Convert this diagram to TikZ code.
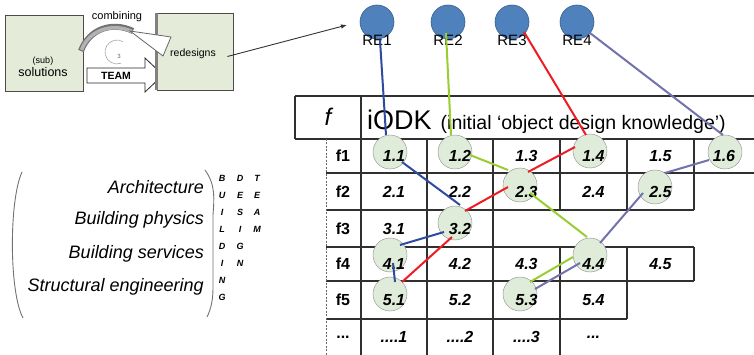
\documentclass[tikz,border=0pt]{standalone}
\usepackage{fontspec}
\setmainfont{Liberation Sans}
\usetikzlibrary{calc,arrows.meta}
\definecolor{boxgreen}{HTML}{E4ECD9}
\definecolor{circgreen}{HTML}{E0ECDA}
\definecolor{reblue}{HTML}{4F81BD}
\definecolor{reborder}{HTML}{3A5F8C}
\definecolor{lblue}{HTML}{2F4B9F}
\definecolor{lgreen}{HTML}{9ACD32}
\definecolor{lred}{HTML}{EE1D23}
\definecolor{lpurple}{HTML}{7272AC}
\definecolor{tline}{HTML}{303030}
\begin{document}
\begin{tikzpicture}[x=1pt,y=-1pt,
  fs/.style={font=\fontsize{#1}{#1}\selectfont},
  gbox/.style={draw=black!70, fill=boxgreen, line width=0.8pt, inner sep=0pt},
  tl/.style={draw=tline, line width=1.2pt},
  cell/.style={font=\fontsize{16}{16}\selectfont\bfseries\itshape, inner sep=0pt},
  flab/.style={font=\fontsize{16}{16}\selectfont\bfseries, inner sep=0pt},
  hcirc/.style={circle, draw=black!45, fill=circgreen, minimum size=34pt, inner sep=0pt},
  renode/.style={circle, draw=reborder, fill=reblue, minimum size=34pt, inner sep=0pt, line width=0.6pt},
  relab/.style={font=\fontsize{15}{15}\selectfont, inner sep=0pt},
  conn/.style={line width=2pt},
  disc/.style={font=\fontsize{18}{18}\selectfont\itshape, anchor=east, inner sep=0pt},
  lett/.style={font=\fontsize{9}{9}\selectfont\bfseries\itshape, inner sep=0pt},
  paren/.style={draw=black!55, line width=0.9pt}
]
\useasboundingbox (0,0) rectangle (754,355);
\fill[white] (0,0) rectangle (754,355);

% ---------- top-left process sketch ----------
\node[gbox, minimum width=78pt, minimum height=76pt] (solbox) at (44,53) {};
\node[fs=9, inner sep=0pt] (subt) at (43,61) {(sub)};
\node[fs=12.5, inner sep=0pt] (solt) at (43,72) {solutions};
% TEAM block arrow
\filldraw[fill=white, draw=black!85, line width=0.8pt] (87,68) -- (145,68) -- (145,58) -- (163,75) -- (145,92) -- (145,83) -- (87,83) -- cycle;
\node[font=\fontsize{10.5}{10.5}\selectfont\bfseries, inner sep=0pt] (team) at (116,75.5) {TEAM};
\node[gbox, minimum width=76pt, minimum height=77pt] (rdbox) at (195,51.5) {};
\draw[black!50, line width=2.5pt] (rdbox.north west) -- (rdbox.south west);
\node[fs=10.5, inner sep=0pt] (rdt) at (193,54) {redesigns};
% combining arc
\draw[black!55, line width=6pt] (81,51) .. controls (89,29) and (112,21) .. (133,31);
\draw[black!30, line width=3.5pt] (81.5,50) .. controls (89,30) and (112,22.5) .. (132,31.5);
\filldraw[fill=white, draw=black!60, line width=0.8pt] (130,31) -- (171,37) -- (163,56) -- cycle;
\draw[black!35, line width=0.6pt] (117,52) ++(300:12) arc (300:70:12);
\node[font=\fontsize{6}{6}\selectfont, text=black!60, inner sep=0pt] (three) at (119,56) {3};
\node[fs=11, inner sep=0pt] (comb) at (117,17) {combining};
% arrow to RE1
\coordinate (reTip) at (347,25);
\draw[-{Latex[length=6pt,width=4.5pt]}, black!80, line width=0.9pt] ($(rdbox.east)+(-6,5)$) -- (reTip);

% ---------- RE nodes ----------
\node[renode] (RE1) at (377,22) {};
\node[renode] (RE2) at (448,22) {};
\node[renode] (RE3) at (512,22) {};
\node[renode] (RE4) at (577,22) {};
\node[relab] (RE1l) at (377,40) {RE1};
\node[relab] (RE2l) at (448,40) {RE2};
\node[relab] (RE3l) at (512,40) {RE3};
\node[relab] (RE4l) at (577,40) {RE4};

% ---------- table grid ----------
\draw[tl] (295,96) -- (754,96);
\draw[tl] (295,139) -- (754,139);
\draw[tl] (295,96) -- (295,139);
\draw[tl] (361,96) -- (361,355);
\draw[tl] (326,173) -- (754,173);
\draw[tl] (326,210) -- (694,210);
\draw[tl] (326,247) -- (694,247);
\draw[tl] (326,281) -- (694,281);
\draw[tl] (326,319) -- (627,319);
\draw[tl] (427,139) -- (427,355);
\draw[tl] (493,139) -- (493,355);
\draw[tl] (560,139) -- (560,210);
\draw[tl] (560,247) -- (560,355);
\draw[tl] (627,139) -- (627,210);
\draw[tl] (627,247) -- (627,319);
\draw[tl] (694,139) -- (694,210);
\draw[tl] (694,247) -- (694,281);
\draw[black!60, line width=0.8pt, dash pattern=on 2pt off 1.5pt] (326,139) -- (326,355);

% header
\node[font=\fontsize{24}{24}\selectfont\itshape, inner sep=0pt] (fhead) at (328,117) {f};
\node[anchor=base west, inner sep=0pt] (iodk) at (367,130) {{\fontsize{27}{27}\selectfont iODK}\hspace{9pt}{\fontsize{19.5}{19.5}\selectfont (initial ‘object design knowledge’)}};

% highlight circles
\node[hcirc] (c11) at (390,152) {};
\node[hcirc] (c12) at (455,152) {};
\node[hcirc] (c14) at (590,151) {};
\node[hcirc] (c16) at (725,152) {};
\node[hcirc] (c23) at (520,185) {};
\node[hcirc] (c25) at (655,187) {};
\node[hcirc] (c32) at (455,223) {};
\node[hcirc] (c41) at (390,255) {};
\node[hcirc] (c44) at (590,255) {};
\node[hcirc] (c51) at (390,294) {};
\node[hcirc] (c53) at (520,294) {};

% row labels
\node[flab] (f1) at (343,156) {f1};
\node[flab] (f2) at (343,191.5) {f2};
\node[flab] (f3) at (343,228.5) {f3};
\node[flab] (f4) at (343,264) {f4};
\node[flab] (f5) at (343,300) {f5};
\node[flab] (fd) at (343,337) {...};

% cells
\node[cell] (t11) at (394,156) {1.1};
\node[cell] (t12) at (460,156) {1.2};
\node[cell] (t13) at (526.5,156) {1.3};
\node[cell] (t14) at (593.5,156) {1.4};
\node[cell] (t15) at (660.5,156) {1.5};
\node[cell] (t16) at (724,156) {1.6};
\node[cell] (t21) at (394,191.5) {2.1};
\node[cell] (t22) at (460,191.5) {2.2};
\node[cell] (t23) at (526.5,191.5) {2.3};
\node[cell] (t24) at (593.5,191.5) {2.4};
\node[cell] (t25) at (660.5,191.5) {2.5};
\node[cell] (t31) at (394,228.5) {3.1};
\node[cell] (t32) at (460,228.5) {3.2};
\node[cell] (t41) at (394,264) {4.1};
\node[cell] (t42) at (460,264) {4.2};
\node[cell] (t43) at (526.5,264) {4.3};
\node[cell] (t44) at (593.5,264) {4.4};
\node[cell] (t45) at (660.5,264) {4.5};
\node[cell] (t51) at (394,300) {5.1};
\node[cell] (t52) at (460,300) {5.2};
\node[cell] (t53) at (526.5,300) {5.3};
\node[cell] (t54) at (593.5,300) {5.4};
\node[cell] (td1) at (394,337) {....1};
\node[cell] (td2) at (460,337) {....2};
\node[cell] (td3) at (526.5,337) {....3};
\node[cell] (td4) at (593.5,337) {...};

% ---------- connectors ----------
% RE1 (blue)
\draw[conn, lblue] ($(RE1)+(3,18)$) -- ($(c11)+(-4,-17)$);
\draw[conn, lblue] ($(c11)+(12,10)$) -- ($(c32)+(5,-18)$);
\draw[conn, lblue] ($(c32)+(-11,9)$) -- ($(c41)+(10,-10)$);
\draw[conn, lblue] ($(c41)+(3,8)$) -- ($(c51)+(5,-12)$);
% RE2 (green)
\draw[conn, lgreen] ($(RE2)+(-2,11)$) -- ($(c12)+(-4,-17)$);
\draw[conn, lgreen] ($(c12)+(15,3)$) -- ($(c23)+(-12,-15)$);
\draw[conn, lgreen] ($(c23)+(10,8)$) -- ($(c44)+(-3,-18)$);
\draw[conn, lgreen] ($(c44)+(-17,2)$) -- ($(c53)+(10,-12)$);
% RE3 (red)
\draw[conn, lred] ($(RE3)+(12,10)$) -- ($(c14)+(-4,-16)$);
\draw[conn, lred] ($(c14)+(-15,-4)$) -- ($(c23)+(8,-13)$);
\draw[conn, lred] ($(c23)+(-12,2)$) -- ($(c32)+(10,-12)$);
\draw[conn, lred] ($(c32)+(-3,14)$) -- ($(c51)+(12,-12)$);
% RE4 (purple)
\draw[conn, lpurple] ($(RE4)+(13,11)$) -- ($(c16)+(-2,-17)$);
\draw[conn, lpurple] ($(c16)+(-16,8)$) -- ($(c25)+(10,-14)$);
\draw[conn, lpurple] ($(c25)+(-12,6)$) -- ($(c44)+(10,-12)$);
\draw[conn, lpurple] ($(c44)+(-10,8)$) -- ($(c53)+(15,-5)$);

% ---------- disciplines ----------
\draw[paren] (22,172) .. controls (9,200) and (9,292) .. (23,318);
\draw[paren] (205,170) .. controls (216,185) and (214,200) .. (213,215) -- (213,288) .. controls (213,300) and (211,309) .. (207,317);
\node[disc] (arch) at (204,187) {Architecture};
\node[disc] (bphys) at (204,220) {Building physics};
\node[disc] (bserv) at (204,254) {Building services};
\node[disc] (struct) at (204,287) {Structural engineering};
% vertical words
\foreach \l [count=\i from 0] in {B,U,I,L,D,I,N,G} {
  \node[lett] (wa\i) at (222,178+17*\i) {\l};
}
\foreach \l [count=\i from 0] in {D,E,S,I,G,N} {
  \node[lett] (wb\i) at (240,178+17*\i) {\l};
}
\foreach \l [count=\i from 0] in {T,E,A,M} {
  \node[lett] (wc\i) at (257,178+17*\i) {\l};
}
\end{tikzpicture}
\end{document}
